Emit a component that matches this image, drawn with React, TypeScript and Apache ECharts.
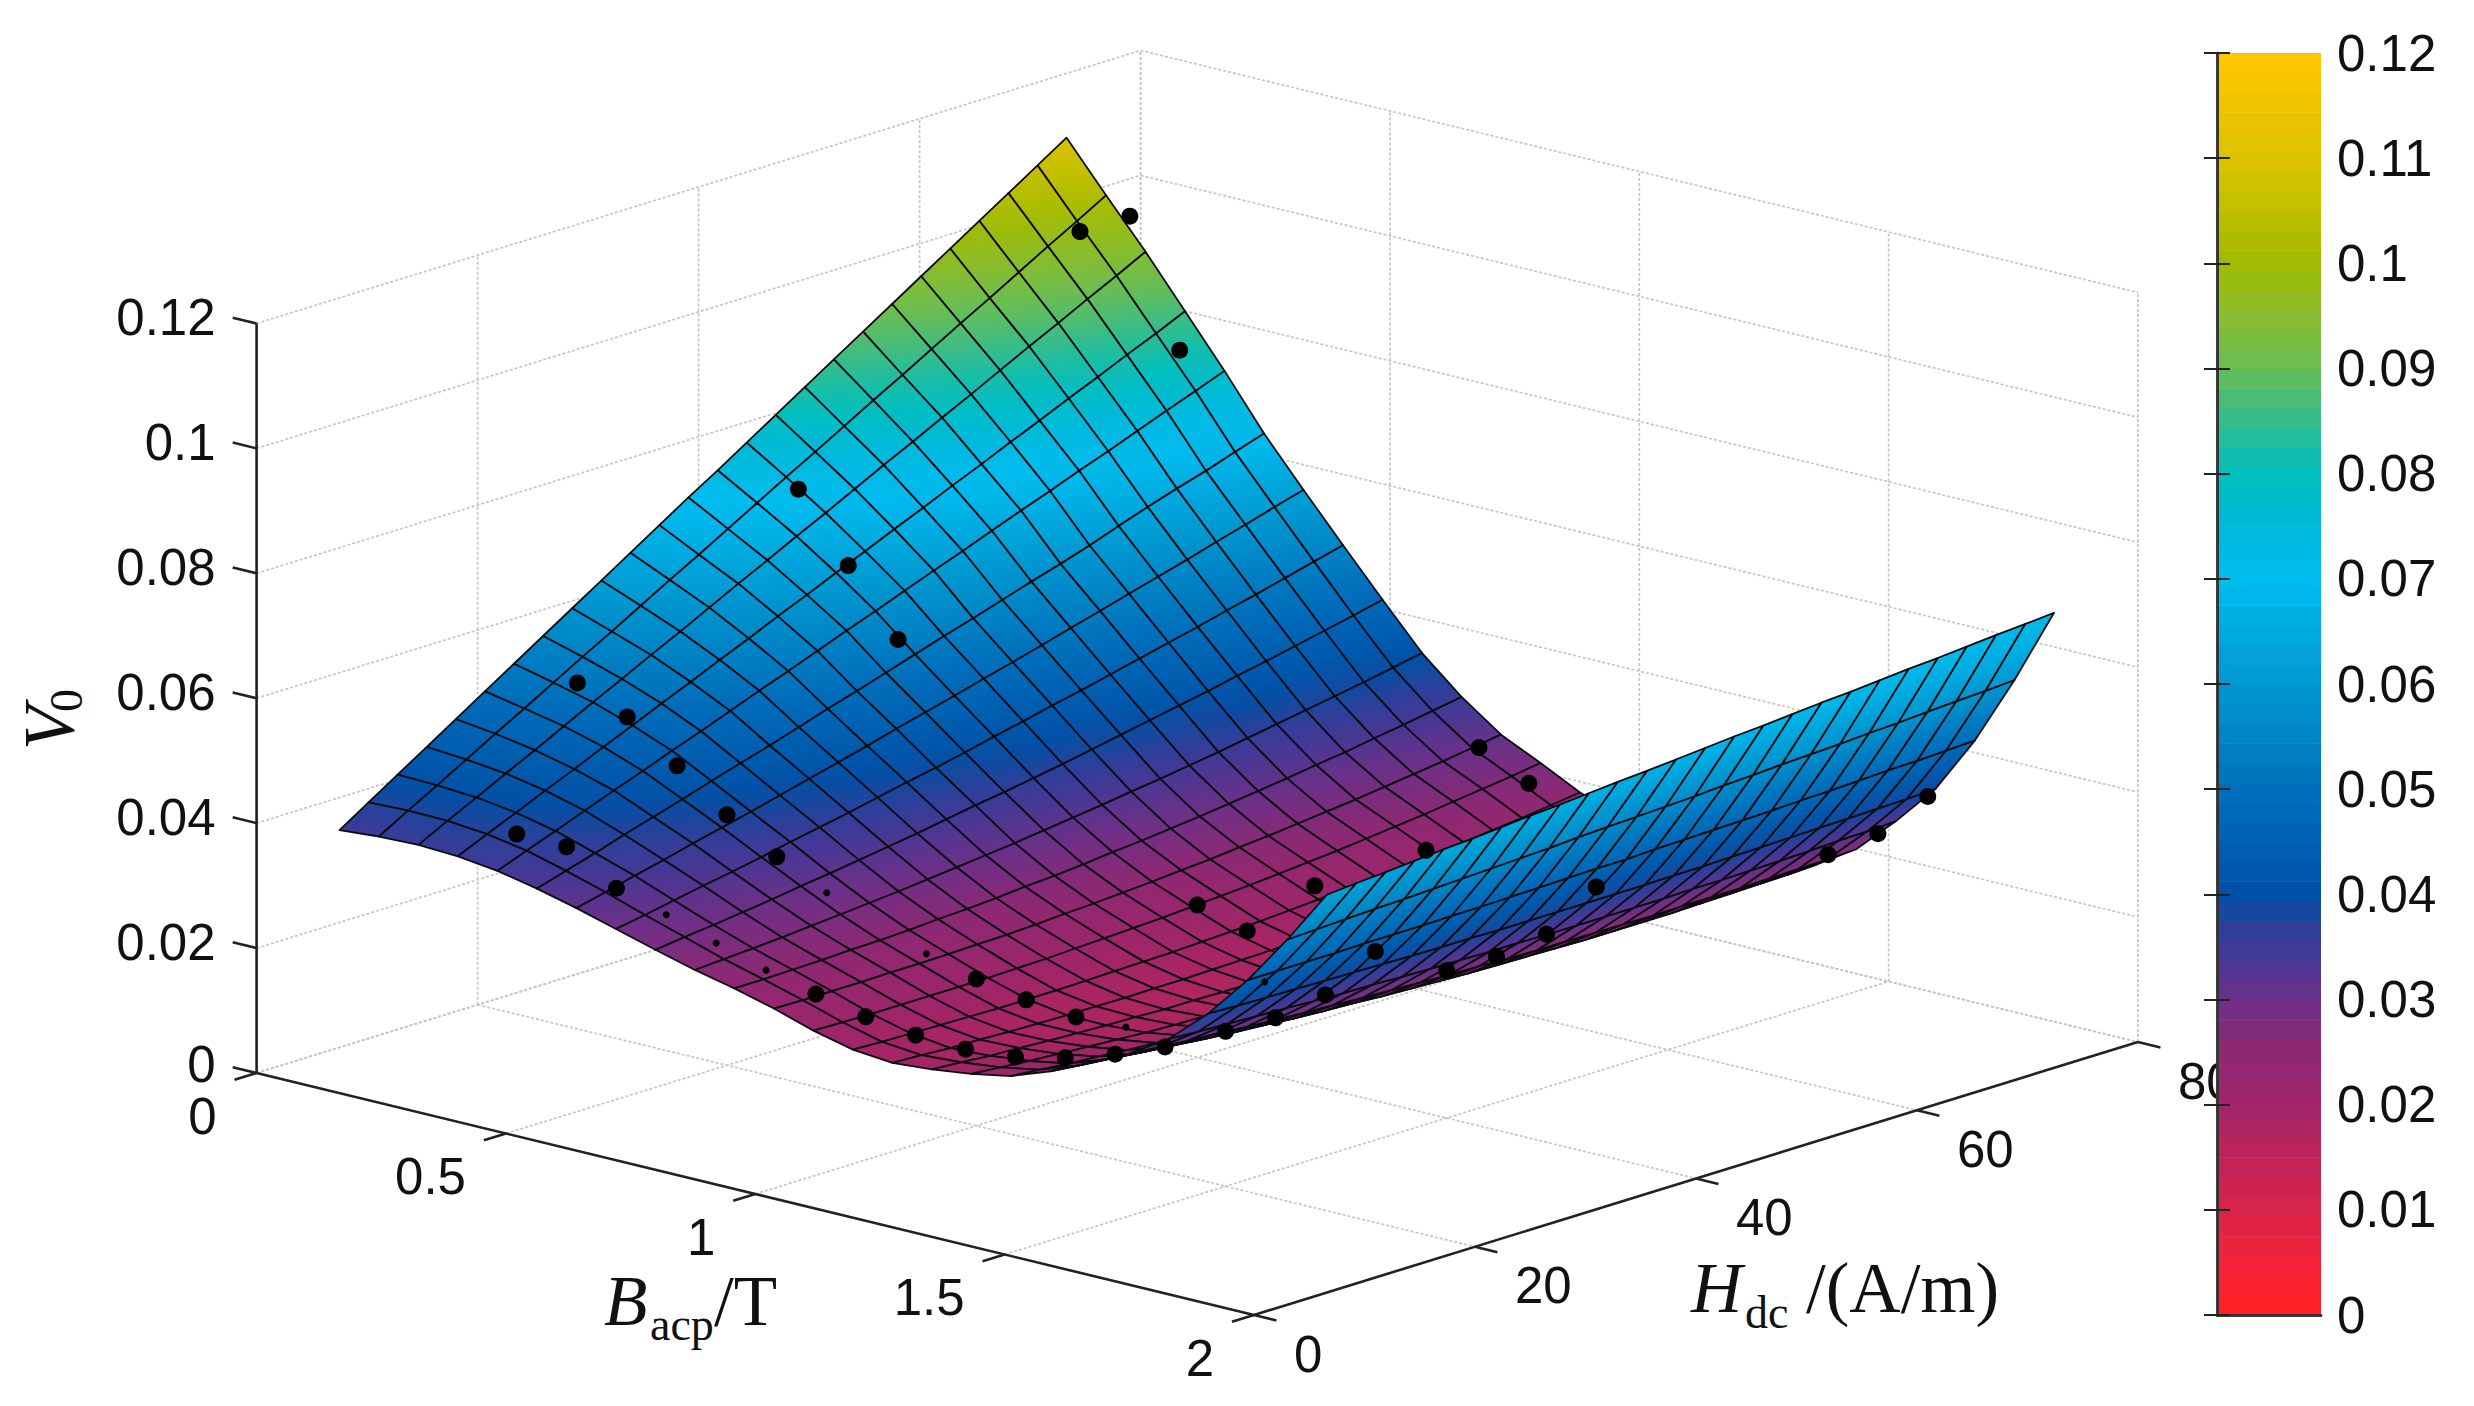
import React, { useEffect, useRef } from "react";
import * as echarts from "echarts";

// Tick values
const B_TICKS = [0, 0.5, 1, 1.5, 2];
const H_TICKS = [0, 20, 40, 60, 80];
const V_TICKS = [0, 0.02, 0.04, 0.06, 0.08, 0.1, 0.12];

// Surface nodes. The reference mesh is about 51x51; this grid holds 26x26 read-off values,
// so drawn cells are about twice as large. Edge values come from the outline, interior
// values are estimates from the edges and the colour bands.
const B_NODES = [0, 0.0792, 0.1584, 0.2376, 0.3168, 0.396, 0.4752, 0.5544, 0.6336, 0.7128, 0.792, 0.8712, 0.9504, 1.0296, 1.1088, 1.188, 1.2672, 1.3464, 1.4256, 1.5048, 1.584, 1.6632, 1.7424, 1.8216, 1.9008, 1.98];
const H_NODES = [7.5, 10.13, 12.76, 15.4, 18.03, 20.66, 23.29, 25.92, 28.56, 31.19, 33.82, 36.45, 39.08, 41.72, 44.35, 46.98, 49.61, 52.24, 54.88, 57.51, 60.14, 62.77, 65.4, 68.04, 70.67, 73.3];

// V0 x 10000, one row per B node, one entry per H node
const V_GRID = [
  [348,378,408,438,468,498,528,558,588,618,648,678,708,737,767,797,827,857,887,917,947,977,1007,1037,1067,1097],
  [353,380,406,433,460,486,513,540,566,593,620,646,673,700,727,753,780,807,833,860,887,913,940,967,993,1020],
  [355,379,402,426,449,473,497,520,544,567,591,615,638,662,685,709,733,756,780,803,827,851,874,898,921,945],
  [352,373,393,414,434,455,475,496,516,537,557,578,598,619,639,660,680,701,721,742,762,783,803,824,844,865],
  [344,362,379,397,415,432,450,467,485,503,520,538,556,573,591,609,626,644,662,679,697,714,732,750,767,785],
  [331,345,359,374,388,402,417,431,445,460,475,489,504,519,534,548,563,578,592,607,624,640,655,669,685,700],
  [315,326,338,349,361,372,383,395,407,419,431,444,456,468,481,493,506,519,532,545,558,571,585,598,612,625],
  [297,305,314,323,331,340,350,359,368,378,388,397,407,418,428,439,449,460,471,482,493,505,516,528,540,552],
  [279,285,290,296,302,309,315,322,329,336,344,352,359,367,375,384,393,402,411,420,430,439,449,459,469,480],
  [262,265,268,271,275,279,283,287,292,297,302,307,313,319,325,332,338,345,352,360,368,376,384,392,401,410],
  [248,248,249,250,252,253,255,258,260,263,267,270,274,279,283,288,293,299,305,311,318,324,332,339,347,355],
  [231,230,230,230,231,231,232,233,234,236,239,241,244,247,251,254,259,263,268,273,278,284,290,296,303,310],
  [211,210,209,209,209,209,209,210,211,213,215,217,219,222,225,228,232,236,240,245,250,255,261,267,273,280],
  [196,194,193,192,191,190,190,190,191,192,193,194,196,198,200,203,206,210,213,217,222,226,231,236,242,248],
  [190,188,185,184,182,181,180,180,179,180,180,181,182,183,185,187,189,192,195,198,202,206,210,215,220,225],
  [195,192,188,186,183,181,179,178,176,176,175,175,175,175,176,177,178,180,182,184,187,190,193,197,201,205],
  [203,199,195,192,189,186,183,181,180,178,177,176,176,175,176,176,177,178,179,181,183,185,188,191,194,198],
  [215,211,206,203,199,196,193,191,188,187,185,184,183,182,182,182,182,183,184,185,187,189,191,194,197,200],
  [238,233,229,224,220,217,213,210,208,206,204,202,200,199,199,198,198,198,199,200,201,203,204,207,209,212],
  [267,262,257,253,248,244,241,237,234,232,229,227,225,223,222,221,220,219,219,219,219,220,221,222,223,225],
  [297,293,289,286,282,279,276,274,271,269,267,265,264,262,261,261,260,260,259,260,260,260,261,262,263,265],
  [336,333,331,329,327,325,323,322,320,319,318,317,317,316,316,316,316,316,317,317,318,319,320,322,323,325],
  [392,390,389,388,387,386,385,384,383,383,382,382,382,382,382,382,383,383,384,385,386,387,388,389,390,392],
  [461,461,461,461,462,462,462,463,463,464,465,466,467,467,469,470,471,472,473,475,476,478,480,481,483,485],
  [541,543,545,547,548,550,552,554,556,558,561,563,565,567,569,572,574,577,579,581,584,586,589,592,594,597],
  [628,632,635,639,643,646,650,654,657,661,665,668,672,676,680,683,687,691,694,698,702,705,709,713,716,720],
];

// Measured points [B, H, V0]
const POINTS_LARGE = [
  [0.3,10,0.0386],[0.4,10,0.0385],[0.5,10,0.0338],[0.9,10,0.0246],[1,10,0.0229],[1.1,10,0.0219],[1.2,10,0.0216],
  [1.3,10,0.0223],[1.4,10,0.0241],[1.5,10,0.0266],[1.6,10,0.0297],
  [0.2,20,0.0554],[0.3,20,0.0519],[0.4,20,0.046],[0.5,20,0.0401],[0.6,20,0.0353],[1,20,0.0235],[1.1,20,0.0221],[1.2,20,0.0213],
  [1.5,20,0.0248],[1.6,20,0.0289],[1.7,20,0.0345],[1.8,20,0.0434],
  [0.2,40,0.0755],[0.3,40,0.0652],[0.4,40,0.0553],[1,40,0.0244],[1.1,40,0.0222],
  [1.5,40,0.0236],[1.6,40,0.0278],[1.7,40,0.0333],[1.8,40,0.0428],
  [1.014,50,0.0223],[1.237,50,0.0323],
  [0.1,70,0.0984],[0.2,70,0.1028],[0.3,70,0.0833],[0.9,70,0.0313],[1,70,0.0275],[1.6,70,0.0277],[1.7,70,0.033],[1.8,70,0.0409],
];
const POINTS_SMALL = [
  [0.6,10,0.0315],[0.7,10,0.0289],[0.8,10,0.0265],[1.8,10,0.044],[0.7,20,0.0315],[0.9,20,0.0256],[1.3,20,0.0216],
];

const COLOR_STOPS: [number, string][] = [
  [0,"#ff2020"],[0.005,"#f42238"],[0.01,"#d8244a"],[0.015,"#bd2458"],[0.02,"#a02568"],[0.025,"#8f2872"],[0.03,"#6c3088"],
  [0.035,"#3d3a98"],[0.0375,"#27429a"],[0.04,"#0050a6"],[0.05,"#0070bc"],[0.06,"#0098d0"],[0.07,"#00bdf0"],[0.075,"#00b8dc"],
  [0.08,"#00bfbe"],[0.085,"#34bc8e"],[0.09,"#68bd55"],[0.095,"#88bd30"],[0.1,"#a0ba00"],[0.105,"#c0bf00"],[0.11,"#dcc200"],[0.115,"#f0c400"],[0.12,"#ffc800"],
];
const BAND_COUNT = 64;
const V_MAX = 0.12;

function hexToRgb(h: string) {
  return [parseInt(h.slice(1, 3), 16), parseInt(h.slice(3, 5), 16), parseInt(h.slice(5, 7), 16)];
}
function rampColor(c: number) {
  for (let k = 1; k < COLOR_STOPS.length; k++) {
    if (c <= COLOR_STOPS[k][0]) {
      const [a, ca] = COLOR_STOPS[k - 1];
      const [b, cb] = COLOR_STOPS[k];
      const t = Math.max(0, (c - a) / (b - a));
      const ra = hexToRgb(ca);
      const rb = hexToRgb(cb);
      return `rgb(${ra.map((x, n) => Math.round(x + (rb[n] - x) * t)).join(",")})`;
    }
  }
  return COLOR_STOPS[COLOR_STOPS.length - 1][1];
}
function bandColor(v: number) {
  const band = Math.min(BAND_COUNT - 1, Math.max(0, Math.floor((v / V_MAX) * BAND_COUNT)));
  return rampColor(((band + 0.5) / BAND_COUNT) * V_MAX);
}

// Orthographic view: data (B, H, V) to page-space values of the full-page hidden axes
function project(b: number, h: number, v: number): [number, number] {
  return [256.6 + 498.7 * b + 11.05 * h, 1073 + 121 * b - 3.4125 * h - 6246 * v];
}

// Cell fill: colour ramp laid along the on-screen direction in which V changes across the cell
function cellFill(p: number[][], v: number[]) {
  const mean = (v[0] + v[1] + v[2] + v[3]) / 4;
  const e1 = [(p[1][0] - p[0][0] + p[2][0] - p[3][0]) / 2, (p[1][1] - p[0][1] + p[2][1] - p[3][1]) / 2];
  const e2 = [(p[3][0] - p[0][0] + p[2][0] - p[1][0]) / 2, (p[3][1] - p[0][1] + p[2][1] - p[1][1]) / 2];
  const d1 = (v[1] - v[0] + v[2] - v[3]) / 2;
  const d2 = (v[3] - v[0] + v[2] - v[1]) / 2;
  const det = e1[0] * e2[1] - e1[1] * e2[0];
  if (Math.abs(det) < 30) return rampColor(mean);
  const gx = (d1 * e2[1] - d2 * e1[1]) / det;
  const gy = (e1[0] * d2 - e2[0] * d1) / det;
  const g2 = gx * gx + gy * gy;
  const lo = Math.min(...v);
  const hi = Math.max(...v);
  if (g2 < 1e-14 || hi - lo < 1e-5) return rampColor(mean);
  const cx = (p[0][0] + p[1][0] + p[2][0] + p[3][0]) / 4;
  const cy = (p[0][1] + p[1][1] + p[2][1] + p[3][1]) / 4;
  const a = (lo - mean) / g2;
  const b = (hi - mean) / g2;
  return new (echarts as any).graphic.LinearGradient(
    cx + gx * a, cy + gy * a, cx + gx * b, cy + gy * b,
    [
      { offset: 0, color: rampColor(lo) },
      { offset: 0.5, color: rampColor((lo + hi) / 2) },
      { offset: 1, color: rampColor(hi) },
    ],
    true,
  );
}

type Seg = [number, number, number, number, number, number];
const wallSegs: Seg[] = [];
B_TICKS.forEach((b) => {
  wallSegs.push([b, 0, 0, b, 80, 0]);
  wallSegs.push([b, 80, 0, b, 80, V_MAX]);
});
H_TICKS.forEach((h) => {
  wallSegs.push([0, h, 0, 2, h, 0]);
  wallSegs.push([0, h, 0, 0, h, V_MAX]);
});
V_TICKS.forEach((v) => {
  wallSegs.push([0, 0, v, 0, 80, v]);
  wallSegs.push([0, 80, v, 2, 80, v]);
});

const axisSegs: Seg[] = [[0, 0, 0, 0, 0, V_MAX], [0, 0, 0, 2, 0, 0], [2, 0, 0, 2, 80, 0]];
B_TICKS.forEach((b) => axisSegs.push([b, 0, 0, b, -2, 0]));
H_TICKS.forEach((h) => axisSegs.push([2, h, 0, 2.045, h, 0]));
V_TICKS.forEach((v) => axisSegs.push([0, 0, v, -0.048, 0, v]));

type Lab = { text: string; at: [number, number, number]; dx: number; dy: number; align: string };
const labels: Lab[] = [
  ...B_TICKS.map((b) => ({ text: String(b), at: [b, 0, 0] as [number, number, number], dx: -40, dy: 43, align: "right" })),
  ...H_TICKS.map((h) => ({ text: String(h), at: [2, h, 0] as [number, number, number], dx: 40, dy: 39, align: "left" })),
  ...V_TICKS.map((v) => ({ text: String(v), at: [0, 0, v] as [number, number, number], dx: -41, dy: v === 0 ? -9 : -6, align: "right" })),
];

const cells: [number, number][] = [];
for (let j = 0; j < B_NODES.length - 1; j++) {
  for (let i = H_NODES.length - 2; i >= 0; i--) cells.push([j, i]);
}
const bands = Array.from({ length: BAND_COUNT }, (_, k) => k);

const SANS = '"Liberation Sans", Arial, sans-serif';
const SERIF = '"Liberation Serif", "Times New Roman", serif';

function lineSeries(segs: Seg[], z: number, style: any) {
  return {
    type: "custom", xAxisIndex: 0, yAxisIndex: 0, z, silent: true,
    data: segs.map((_, n) => [n, 0]),
    renderItem: (p: any, api: any) => {
      const s = segs[p.dataIndex];
      const a = api.coord(project(s[0], s[1], s[2]));
      const b = api.coord(project(s[3], s[4], s[5]));
      return { type: "line", shape: { x1: a[0], y1: a[1], x2: b[0], y2: b[1] }, style };
    },
  };
}
function pointSeries(pts: number[][], r: number) {
  return {
    type: "custom", xAxisIndex: 0, yAxisIndex: 0, z: 2.5, silent: true,
    data: pts.map((_, n) => [n, 0]),
    renderItem: (p: any, api: any) => {
      const q = pts[p.dataIndex];
      const c = api.coord(project(q[0], q[1], q[2]));
      return { type: "circle", shape: { cx: c[0], cy: c[1], r }, style: { fill: "#000" } };
    },
  };
}

function titleText(text: string, x: number, y: number, size: number, italic: boolean, rotation = 0) {
  return {
    type: "text", x, y, rotation, z: 10, silent: true,
    style: { text, fill: "#111", font: `${italic ? "italic " : ""}${size}px ${SERIF}`, textAlign: "left", textVerticalAlign: "middle" },
  };
}

export default function App() {
  const ref = useRef<HTMLDivElement>(null);
  useEffect(() => {
    const chart = echarts.init(ref.current!, undefined, { renderer: "svg" });
    const hiddenAxis = { show: false, type: "value" };
    const boxLine = { show: true, lineStyle: { color: "#333", width: 2.5 } };
    const cbTick = { show: true, inside: true, length: 13, lineStyle: { color: "#222", width: 2 } };
    chart.setOption({
      animation: false,
      backgroundColor: "#fff",
      grid: [
        { left: 0, top: 0, width: 2474, height: 1406, show: false },
        { left: 2217, top: 53, width: 104, height: 1262, show: false },
      ],
      xAxis: [
        { ...hiddenAxis, gridIndex: 0, min: 0, max: 2474 },
        { type: "value", gridIndex: 1, min: 0, max: 1, position: "bottom", z: 5, axisLine: boxLine, axisTick: { show: false }, axisLabel: { show: false }, splitLine: { show: false } },
        { type: "value", gridIndex: 1, min: 0, max: 1, position: "top", z: 5, axisLine: boxLine, axisTick: { show: false }, axisLabel: { show: false }, splitLine: { show: false } },
      ],
      yAxis: [
        { ...hiddenAxis, gridIndex: 0, min: 0, max: 1406, inverse: true },
        { type: "value", gridIndex: 1, min: 0, max: V_MAX, interval: 0.01, position: "right", z: 5, axisLine: boxLine, axisTick: cbTick, splitLine: { show: false },
          axisLabel: { show: true, margin: 16, fontSize: 51, fontFamily: SANS, color: "#111", formatter: (v: number) => String(+v.toFixed(2)) } },
        { type: "value", gridIndex: 1, min: 0, max: V_MAX, interval: 0.01, position: "left", z: 5, axisLine: boxLine, axisTick: cbTick, axisLabel: { show: false }, splitLine: { show: false } },
      ],
      series: [
        lineSeries(wallSegs, 1, { stroke: "#c6c6c6", lineWidth: 1.7, lineDash: [3, 2], fill: "none" }),
        lineSeries(axisSegs, 1.2, { stroke: "#222", lineWidth: 2.6, fill: "none" }),
        {
          type: "custom", xAxisIndex: 0, yAxisIndex: 0, z: 1.3, silent: true,
          data: labels.map((_, n) => [n, 0]),
          renderItem: (p: any, api: any) => {
            const l = labels[p.dataIndex];
            const c = api.coord(project(l.at[0], l.at[1], l.at[2]));
            return { type: "text", x: c[0] + l.dx, y: c[1] + l.dy,
              style: { text: l.text, fill: "#111", font: `51px ${SANS}`, textAlign: l.align, textVerticalAlign: "middle" } };
          },
        },
        {
          type: "custom", xAxisIndex: 0, yAxisIndex: 0, z: 2, silent: true,
          data: cells.map((_, n) => [n, 0]),
          renderItem: (p: any, api: any) => {
            const [j, i] = cells[p.dataIndex];
            const corners: [number, number][] = [[j, i], [j + 1, i], [j + 1, i + 1], [j, i + 1]];
            const vals = corners.map(([a, b]) => V_GRID[a][b] / 10000);
            const pts = corners.map(([a, b], n) => api.coord(project(B_NODES[a], H_NODES[b], vals[n])));
            return { type: "polygon", shape: { points: pts }, style: { fill: cellFill(pts, vals), stroke: "#0c0c12", lineWidth: 1.8, lineJoin: "round" } };
          },
        },
        pointSeries(POINTS_LARGE, 8.5),
        pointSeries(POINTS_SMALL, 3.5),
        {
          type: "custom", xAxisIndex: 1, yAxisIndex: 1, z: 3, silent: true,
          data: bands.map((k) => [0, (k / BAND_COUNT) * V_MAX]),
          renderItem: (p: any, api: any) => {
            const k = bands[p.dataIndex];
            const a = api.coord([0, ((k + 1) / BAND_COUNT) * V_MAX]);
            const b = api.coord([1, (k / BAND_COUNT) * V_MAX]);
            return { type: "rect", shape: { x: a[0], y: a[1], width: b[0] - a[0], height: b[1] - a[1] + 0.6 }, style: { fill: bandColor(((k + 0.5) / BAND_COUNT) * V_MAX) } };
          },
        },
      ],
      graphic: [
        titleText("V", 49, 750, 72, true, Math.PI / 2),
        titleText("0", 66, 712, 46, false, Math.PI / 2),
        titleText("B", 604, 1301, 71, true),
        titleText("acp", 650, 1324, 46, false),
        titleText("/T", 714, 1301, 71, false),
        titleText("H", 1691, 1288, 71, true),
        titleText("dc", 1745, 1312, 46, false),
        titleText("/(A/m)", 1806, 1288, 71, false),
      ],
    });
    return () => chart.dispose();
  }, []);
  return <div ref={ref} style={{ position: "absolute", left: 0, top: 0, width: 2474, height: 1406 }} />;
}
